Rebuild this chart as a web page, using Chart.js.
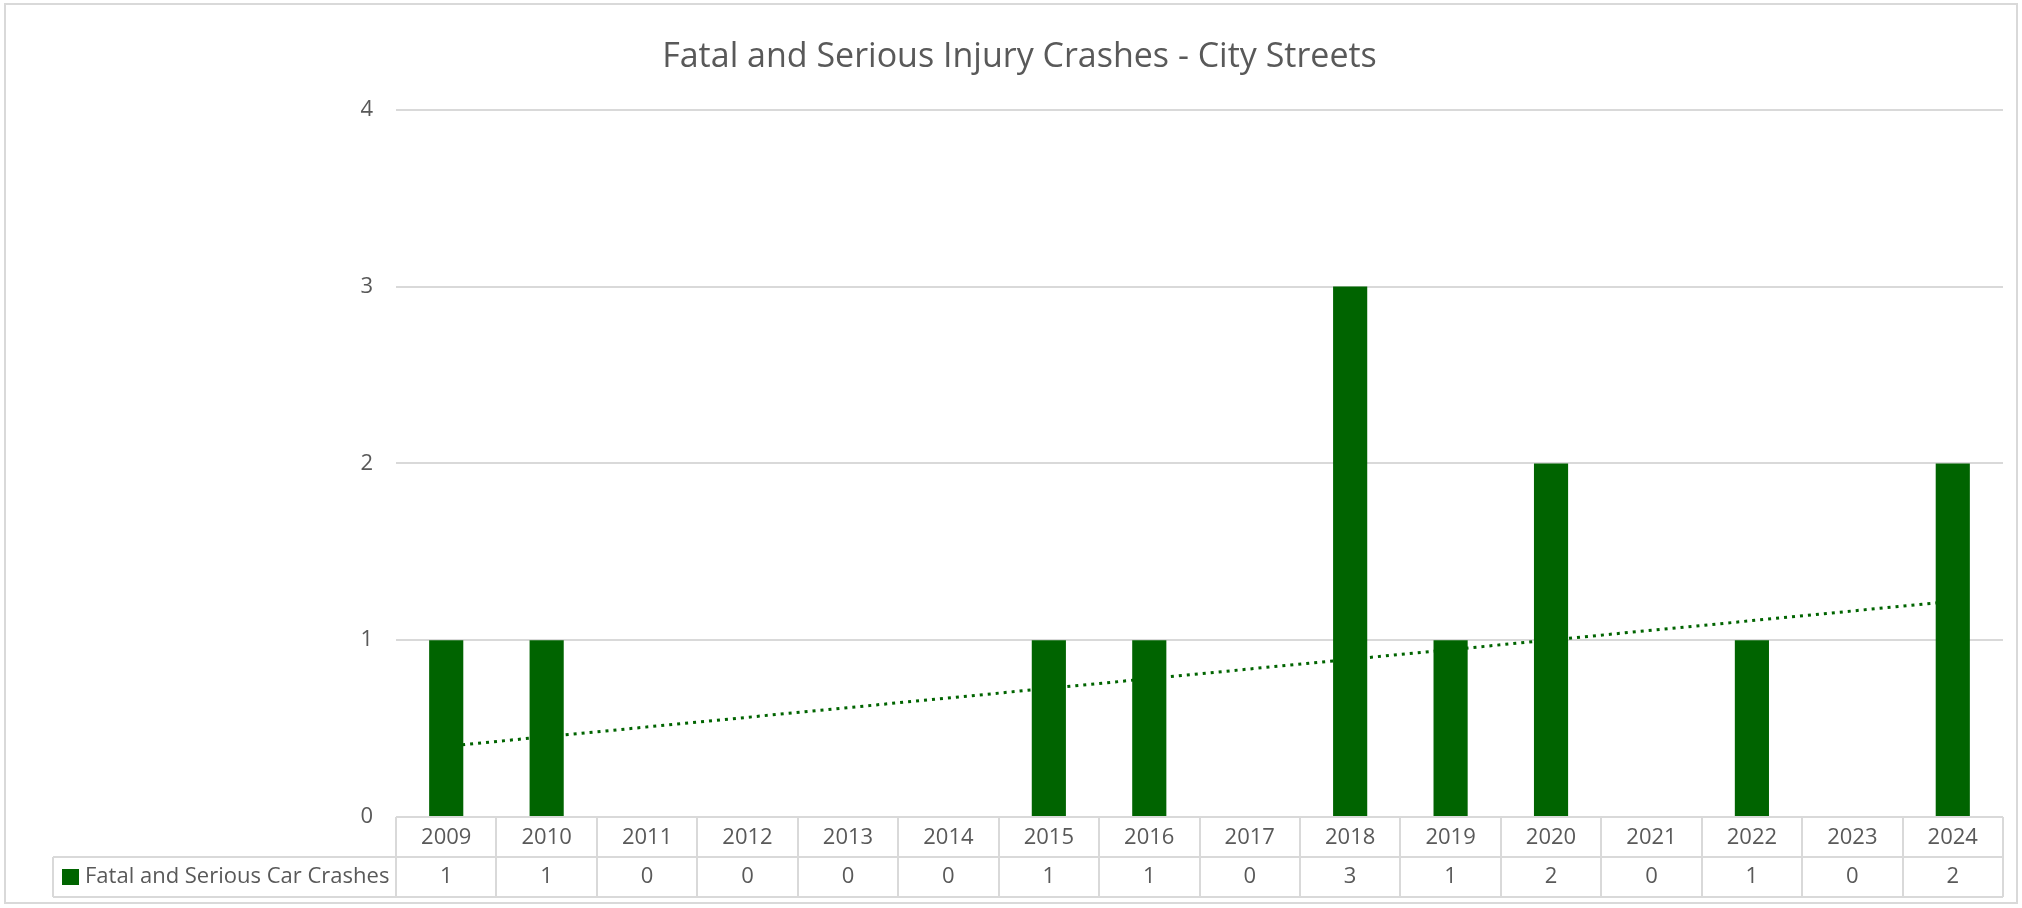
<!DOCTYPE html>
<html>
<head>
<meta charset="utf-8">
<title>Fatal and Serious Injury Crashes - City Streets</title>
<script src="https://cdn.jsdelivr.net/npm/chart.js@4/dist/chart.umd.min.js"></script>
<style>
  html, body { margin: 0; padding: 0; background: #fff; }
  #wrap { width: 2022px; height: 908px; }
</style>
</head>
<body>
<div id="wrap"><canvas id="crashChart" width="2022" height="908"></canvas></div>
<script>
// Chart data
const chartTitle = "Fatal and Serious Injury Crashes - City Streets";
const seriesName = "Fatal and Serious Car Crashes";
const years = ["2009", "2010", "2011", "2012", "2013", "2014", "2015", "2016",
               "2017", "2018", "2019", "2020", "2021", "2022", "2023", "2024"];
const crashes = [1, 1, 0, 0, 0, 0, 1, 1, 0, 3, 1, 2, 0, 1, 0, 2];
// linear trendline, end values (gaps are spanned)
const trendline = [0.40, null, null, null, null, null, null, null,
                   null, null, null, null, null, null, null, 1.22];
const yTicks = [0, 1, 2, 3, 4];

const green = "#006400";
const textGrey = "#595959";
const lineGrey = "#d9d9d9";
const fontFamily = "'Open Sans', 'Liberation Sans', sans-serif";

// White background + thin outer frame
const frame = {
    id: "frame",
    beforeDraw(chart) {
        const ctx = chart.ctx;
        ctx.save();
        ctx.fillStyle = "#fff";
        ctx.fillRect(0, 0, chart.width, chart.height);
        ctx.strokeStyle = lineGrey;
        ctx.lineWidth = 2;
        ctx.strokeRect(5, 4, 2012, 899);
        ctx.restore();
    },
};

// Excel-style data table under the plot
const dataTable = {
    id: "dataTable",
    afterDraw(chart) {
        const { ctx, chartArea, scales } = chart;
        const xs = scales.x;
        const colW = (chartArea.right - chartArea.left) / years.length;
        const top = chartArea.bottom;
        const mid = top + 40;
        const bot = top + 80;
        const keyLeft = 53;

        ctx.save();
        ctx.strokeStyle = lineGrey;
        ctx.lineWidth = 2;
        ctx.beginPath();
        ctx.moveTo(chartArea.left, top);
        ctx.lineTo(chartArea.right, top);
        ctx.moveTo(keyLeft, mid);
        ctx.lineTo(chartArea.right, mid);
        ctx.moveTo(keyLeft, bot);
        ctx.lineTo(chartArea.right, bot);
        for (let i = 0; i <= years.length; i++) {
            const px = Math.round(chartArea.left + i * colW);
            ctx.moveTo(px, top);
            ctx.lineTo(px, bot);
        }
        ctx.moveTo(keyLeft, mid);
        ctx.lineTo(keyLeft, bot);
        ctx.stroke();

        ctx.font = "22px " + fontFamily;
        ctx.fillStyle = textGrey;
        ctx.textAlign = "center";
        ctx.textBaseline = "middle";
        crashes.forEach((v, i) => {
            ctx.fillText(String(v), xs.getPixelForValue(i), mid + 20);
        });

        // legend key
        ctx.fillStyle = green;
        ctx.fillRect(keyLeft + 9, mid + 12, 17, 16);
        ctx.fillStyle = textGrey;
        ctx.textAlign = "left";
        ctx.fillText(seriesName, keyLeft + 32, mid + 20);
        ctx.restore();
    },
};

const ctx = document.getElementById("crashChart").getContext("2d");
new Chart(ctx, {
    data: {
        labels: years,
        datasets: [
            {
                type: "bar",
                label: seriesName,
                data: crashes,
                backgroundColor: green,
                categoryPercentage: 1,
                barPercentage: 0.34,
                order: 1,
            },
            {
                type: "line",
                label: "Linear (" + seriesName + ")",
                data: trendline,
                borderColor: green,
                borderWidth: 3,
                borderDash: [3, 5],
                pointRadius: 0,
                spanGaps: true,
                fill: false,
                order: 2,
            },
        ],
    },
    options: {
        responsive: false,
        animation: false,
        devicePixelRatio: 1,
        layout: { padding: { left: 36, right: 19, top: 0, bottom: 0 } },
        plugins: {
            legend: { display: false },
            tooltip: { enabled: false },
            title: {
                display: true,
                text: chartTitle,
                color: textGrey,
                font: { family: fontFamily, size: 34, weight: "normal" },
                padding: { top: 37, bottom: 32 },
            },
        },
        scales: {
            x: {
                offset: true,
                grid: { display: false, drawTicks: false },
                border: { display: false },
                ticks: {
                    color: textGrey,
                    font: { family: fontFamily, size: 22 },
                    padding: 8,
                    maxRotation: 0,
                    autoSkip: false,
                },
                afterFit(scale) {
                    scale.height = 91;
                },
            },
            y: {
                min: 0,
                max: 4,
                grid: { color: lineGrey, lineWidth: 2, drawTicks: false },
                border: { display: false },
                ticks: {
                    color: textGrey,
                    font: { family: fontFamily, size: 22 },
                    padding: 23,
                },
                afterBuildTicks(scale) {
                    scale.ticks = yTicks.map((v) => ({ value: v }));
                },
                afterFit(scale) {
                    scale.width = 360;
                },
            },
        },
    },
    plugins: [frame, dataTable],
});
</script>
</body>
</html>
